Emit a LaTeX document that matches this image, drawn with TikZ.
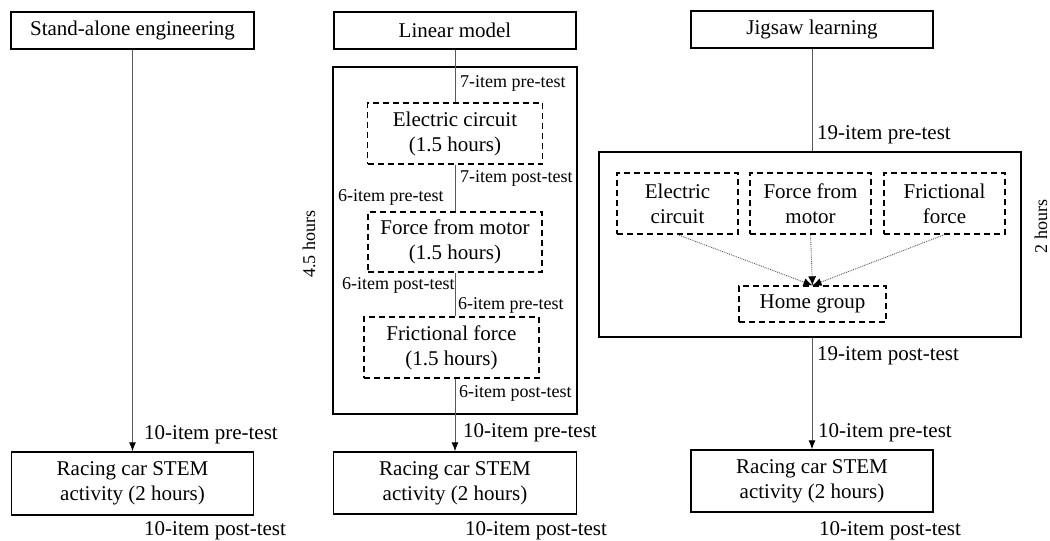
\documentclass[tikz,border=0pt]{standalone}
\usepackage{fontspec}
\setmainfont{Liberation Serif}
\usetikzlibrary{arrows.meta}
\tikzset{
  box/.style={draw=black, line width=1.3pt, inner sep=0pt, align=center, font=\fontsize{21}{25}\selectfont},
  dbox/.style={draw=black, line width=1.3pt, dash pattern=on 6pt off 4pt, inner sep=0pt, align=center, font=\fontsize{21}{25}\selectfont},
  cont/.style={draw=black, line width=1.3pt, inner sep=0pt},
  lbl/.style={inner sep=0pt, anchor=west, font=\fontsize{21}{25}\selectfont},
  slbl/.style={inner sep=0pt, anchor=west, font=\fontsize{18}{21}\selectfont},
  rlbl/.style={inner sep=0pt, rotate=90, font=\fontsize{18}{21}\selectfont},
  conn/.style={draw=black!65, line width=1pt},
  arr/.style={conn, -{Latex[black, length=9pt, width=7pt]}},
  darr/.style={draw=black!65, line width=0.9pt, densely dotted, -{Latex[black, length=9pt, width=8pt]}}
}
\begin{document}
\begin{tikzpicture}[x=1pt, y=-1pt]
\useasboundingbox (0,0) rectangle (1050,541);

% ---------- left column ----------
\node[box, minimum width=243pt, minimum height=37pt] (sa) at (132.5,30.5) {Stand-alone engineering};
\node[box, minimum width=242pt, minimum height=63pt] (racL) at (132.5,483.5) {Racing car STEM\\activity (2 hours)};
\draw[arr] (sa.south) -- (racL.north);
\node[lbl] (lpre) at (144,435) {10-item pre-test};
\node[lbl] (lpost) at (144,531) {10-item post-test};

% ---------- middle column ----------
\node[box, minimum width=242pt, minimum height=37pt] (lm) at (455,30.5) {Linear model};
\node[cont, minimum width=244pt, minimum height=347pt] (mcont) at (455,240.5) {};
\node[dbox, minimum width=175pt, minimum height=61pt] (mec) at (455,133.5) {Electric circuit\\(1.5 hours)};
\node[dbox, minimum width=174pt, minimum height=60pt] (mfm) at (455,242) {Force from motor\\(1.5 hours)};
\node[dbox, minimum width=175pt, minimum height=61pt] (mff) at (451.5,347.5) {Frictional force\\(1.5 hours)};
\node[box, minimum width=243pt, minimum height=62pt] (racM) at (455,483) {Racing car STEM\\activity (2 hours)};
\draw[conn] (lm.south) -- (mec.north);
\draw[conn] (mec.south) -- (mfm.north);
\draw[conn] (mfm.south) -- (mfm.south |- mff.north);
\draw[arr] (mff.south -| mfm.south) -- (racM.north);
\node[slbl] (m1) at (460,83) {7-item pre-test};
\node[slbl] (m2) at (460,178) {7-item post-test};
\node[slbl] (m3) at (338,197) {6-item pre-test};
\node[slbl] (m4) at (342,285) {6-item post-test};
\node[slbl] (m5) at (458,305) {6-item pre-test};
\node[slbl] (m6) at (459,393) {6-item post-test};
\node[lbl] (mpre) at (463,433) {10-item pre-test};
\node[lbl] (mpost) at (465,531) {10-item post-test};
\node[rlbl] (h45) at (309,244) {4.5 hours};

% ---------- right column ----------
\node[box, minimum width=242pt, minimum height=37pt] (jig) at (812,29.5) {Jigsaw learning};
\node[cont, minimum width=422pt, minimum height=185pt] (rcont) at (810,244.5) {};
\node[dbox, minimum width=121pt, minimum height=61pt] (rec) at (677.5,203.5) {Electric\\circuit};
\node[dbox, minimum width=121pt, minimum height=61pt] (rfm) at (810.5,203.5) {Force from\\motor};
\node[dbox, minimum width=121pt, minimum height=61pt] (rff) at (944.5,203.5) {Frictional\\force};
\node[dbox, minimum width=147pt, minimum height=36pt] (home) at (812.5,304) {Home group};
\node[box, minimum width=242pt, minimum height=62pt] (racR) at (812,481) {Racing car STEM\\activity (2 hours)};
\draw[conn] (jig.south) -- (jig.south |- rcont.north);
\draw[arr] (rcont.south -| jig.south) -- (racR.north);
\draw[darr] (rec.south) -- (home.north);
\draw[darr] (rfm.south) -- (home.north);
\draw[darr] (rff.south) -- (home.north);
\node[lbl] (rpre19) at (817,135) {19-item pre-test};
\node[lbl] (rpost19) at (817,356) {19-item post-test};
\node[lbl] (rpre) at (818,433) {10-item pre-test};
\node[lbl] (rpost) at (819,531) {10-item post-test};
\node[rlbl] (h2) at (1041,226.5) {2 hours};
\end{tikzpicture}
\end{document}
